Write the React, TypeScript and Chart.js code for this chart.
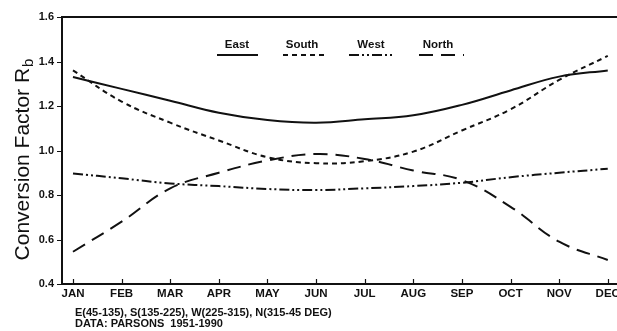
import React, { useEffect, useRef } from "react";
import { Chart, registerables } from "chart.js";

Chart.register(...registerables);

const months = ["JAN", "FEB", "MAR", "APR", "MAY", "JUN", "JUL", "AUG", "SEP", "OCT", "NOV", "DEC"];
const yTicks = [0.4, 0.6, 0.8, 1.0, 1.2, 1.4, 1.6];
const east = [1.33, 1.277, 1.224, 1.17, 1.137, 1.125, 1.14, 1.158, 1.205, 1.27, 1.332, 1.36];
const south = [1.36, 1.22, 1.125, 1.045, 0.97, 0.943, 0.952, 0.995, 1.09, 1.185, 1.317, 1.425];
const west = [0.897, 0.875, 0.852, 0.84, 0.827, 0.822, 0.83, 0.84, 0.855, 0.88, 0.9, 0.918];
const north = [0.545, 0.68, 0.83, 0.9, 0.955, 0.984, 0.962, 0.91, 0.867, 0.747, 0.59, 0.508];
const seriesNames = ["East", "South", "West", "North"];
const footLines = ["E(45-135), S(135-225), W(225-315), N(315-45 DEG)", "DATA: PARSONS  1951-1990"];

const INK = "#111";
const dashes: number[][] = [[], [5, 4], [10, 3, 2, 3, 2, 3], [14, 8]];
const legendPos = [
  { tx: 237, x1: 217, x2: 258 },
  { tx: 302, x1: 283, x2: 325 },
  { tx: 371, x1: 349, x2: 392 },
  { tx: 438, x1: 419, x2: 464 },
];

const overlay = {
  id: "overlay",
  afterDraw(chart: any) {
    const ctx = chart.ctx as CanvasRenderingContext2D;
    const { left, right, top, bottom } = chart.chartArea;
    const xs = chart.scales.x;
    const ys = chart.scales.y;
    ctx.save();
    ctx.strokeStyle = INK;
    ctx.fillStyle = INK;
    ctx.lineWidth = 2;
    ctx.setLineDash([]);
    ctx.beginPath();
    ctx.moveTo(left, top);
    ctx.lineTo(right + 2, top);
    ctx.moveTo(left, top - 1);
    ctx.lineTo(left, bottom + 1);
    ctx.moveTo(left - 1, bottom);
    ctx.lineTo(right + 2, bottom);
    ctx.stroke();
    ctx.lineWidth = 1.2;
    ctx.beginPath();
    yTicks.forEach((v) => {
      const py = Math.round(ys.getPixelForValue(v)) + 0.5;
      ctx.moveTo(left - 5, py);
      ctx.lineTo(left, py);
    });
    months.forEach((_, i) => {
      const px = Math.round(xs.getPixelForValue(i)) + 0.5;
      ctx.moveTo(px, bottom);
      ctx.lineTo(px, bottom - 5);
    });
    ctx.stroke();

    // legend
    ctx.font = "bold 11.5px 'Liberation Sans', Arial, sans-serif";
    ctx.textAlign = "center";
    ctx.textBaseline = "middle";
    seriesNames.forEach((name, i) => {
      const p = legendPos[i];
      ctx.fillText(name, p.tx, 45);
      ctx.lineWidth = 2;
      ctx.setLineDash(dashes[i]);
      ctx.beginPath();
      ctx.moveTo(p.x1, 55);
      ctx.lineTo(p.x2, 55);
      ctx.stroke();
    });
    ctx.setLineDash([]);

    // y title with subscript
    ctx.save();
    ctx.translate(22, 160);
    ctx.rotate(-Math.PI / 2);
    const mainFont = "21px 'Liberation Sans', Arial, sans-serif";
    const subFont = "15px 'Liberation Sans', Arial, sans-serif";
    ctx.font = mainFont;
    const mainText = "Conversion Factor R";
    const w1 = ctx.measureText(mainText).width;
    ctx.font = subFont;
    const w2 = ctx.measureText("b").width;
    const start = -(w1 + w2) / 2;
    ctx.textAlign = "left";
    ctx.textBaseline = "alphabetic";
    ctx.font = mainFont;
    ctx.fillText(mainText, start, 7);
    ctx.font = subFont;
    ctx.fillText("b", start + w1 + 1, 11);
    ctx.restore();

    // footnotes
    ctx.font = "bold 11px 'Liberation Sans', Arial, sans-serif";
    ctx.textAlign = "left";
    ctx.textBaseline = "middle";
    ctx.fillText(footLines[0], 75, 313);
    ctx.fillText(footLines[1], 75, 324);
    ctx.restore();
  },
};

export default function App() {
  const ref = useRef<HTMLCanvasElement | null>(null);
  useEffect(() => {
    if (!ref.current) return;
    const mk = (arr: number[]) => arr.map((v, i) => ({ x: i, y: v }));
    const all = [east, south, west, north];
    const chart = new Chart(ref.current, {
      type: "line",
      data: {
        datasets: all.map((arr, i) => ({
          label: seriesNames[i],
          data: mk(arr),
          borderColor: INK,
          borderWidth: 2,
          borderDash: dashes[i],
          pointRadius: 0,
          tension: 0.4,
          fill: false,
        })),
      },
      options: {
        animation: false,
        responsive: false,
        layout: { padding: { top: 17, left: 0, right: 0, bottom: 0 } },
        plugins: { legend: { display: false }, tooltip: { enabled: false } },
        scales: {
          x: {
            type: "linear",
            min: -0.226,
            max: 11.19,
            afterBuildTicks: (s: any) => {
              s.ticks = months.map((_, i) => ({ value: i }));
            },
            afterFit: (s: any) => {
              s.height = 47;
              s.paddingRight = 0;
              s.paddingLeft = 0;
            },
            grid: { display: false, drawTicks: false },
            border: { display: false },
            ticks: {
              autoSkip: false,
              maxRotation: 0,
              padding: 3,
              color: INK,
              font: { family: "'Liberation Sans', Arial, sans-serif", size: 11.5, weight: "bold" },
              callback: (v: any) => months[Math.round(Number(v))] ?? "",
            },
          },
          y: {
            min: 0.4,
            max: 1.6,
            afterBuildTicks: (s: any) => {
              s.ticks = yTicks.map((v) => ({ value: v }));
            },
            afterFit: (s: any) => {
              s.width = 62;
              s.paddingTop = 0;
              s.paddingBottom = 0;
            },
            grid: { display: false, drawTicks: false },
            border: { display: false },
            ticks: {
              padding: 8,
              color: INK,
              font: { family: "'Liberation Sans', Arial, sans-serif", size: 11, weight: "bold" },
              callback: (v: any) => Number(v).toFixed(1),
            },
          },
        },
      },
      plugins: [overlay],
    });
    return () => chart.destroy();
  }, []);
  return (
    <div style={{ position: "fixed", left: 0, top: 0, width: 617, height: 331, background: "#fff" }}>
      <canvas ref={ref} width={617} height={331} style={{ display: "block", width: 617, height: 331 }} />
    </div>
  );
}
